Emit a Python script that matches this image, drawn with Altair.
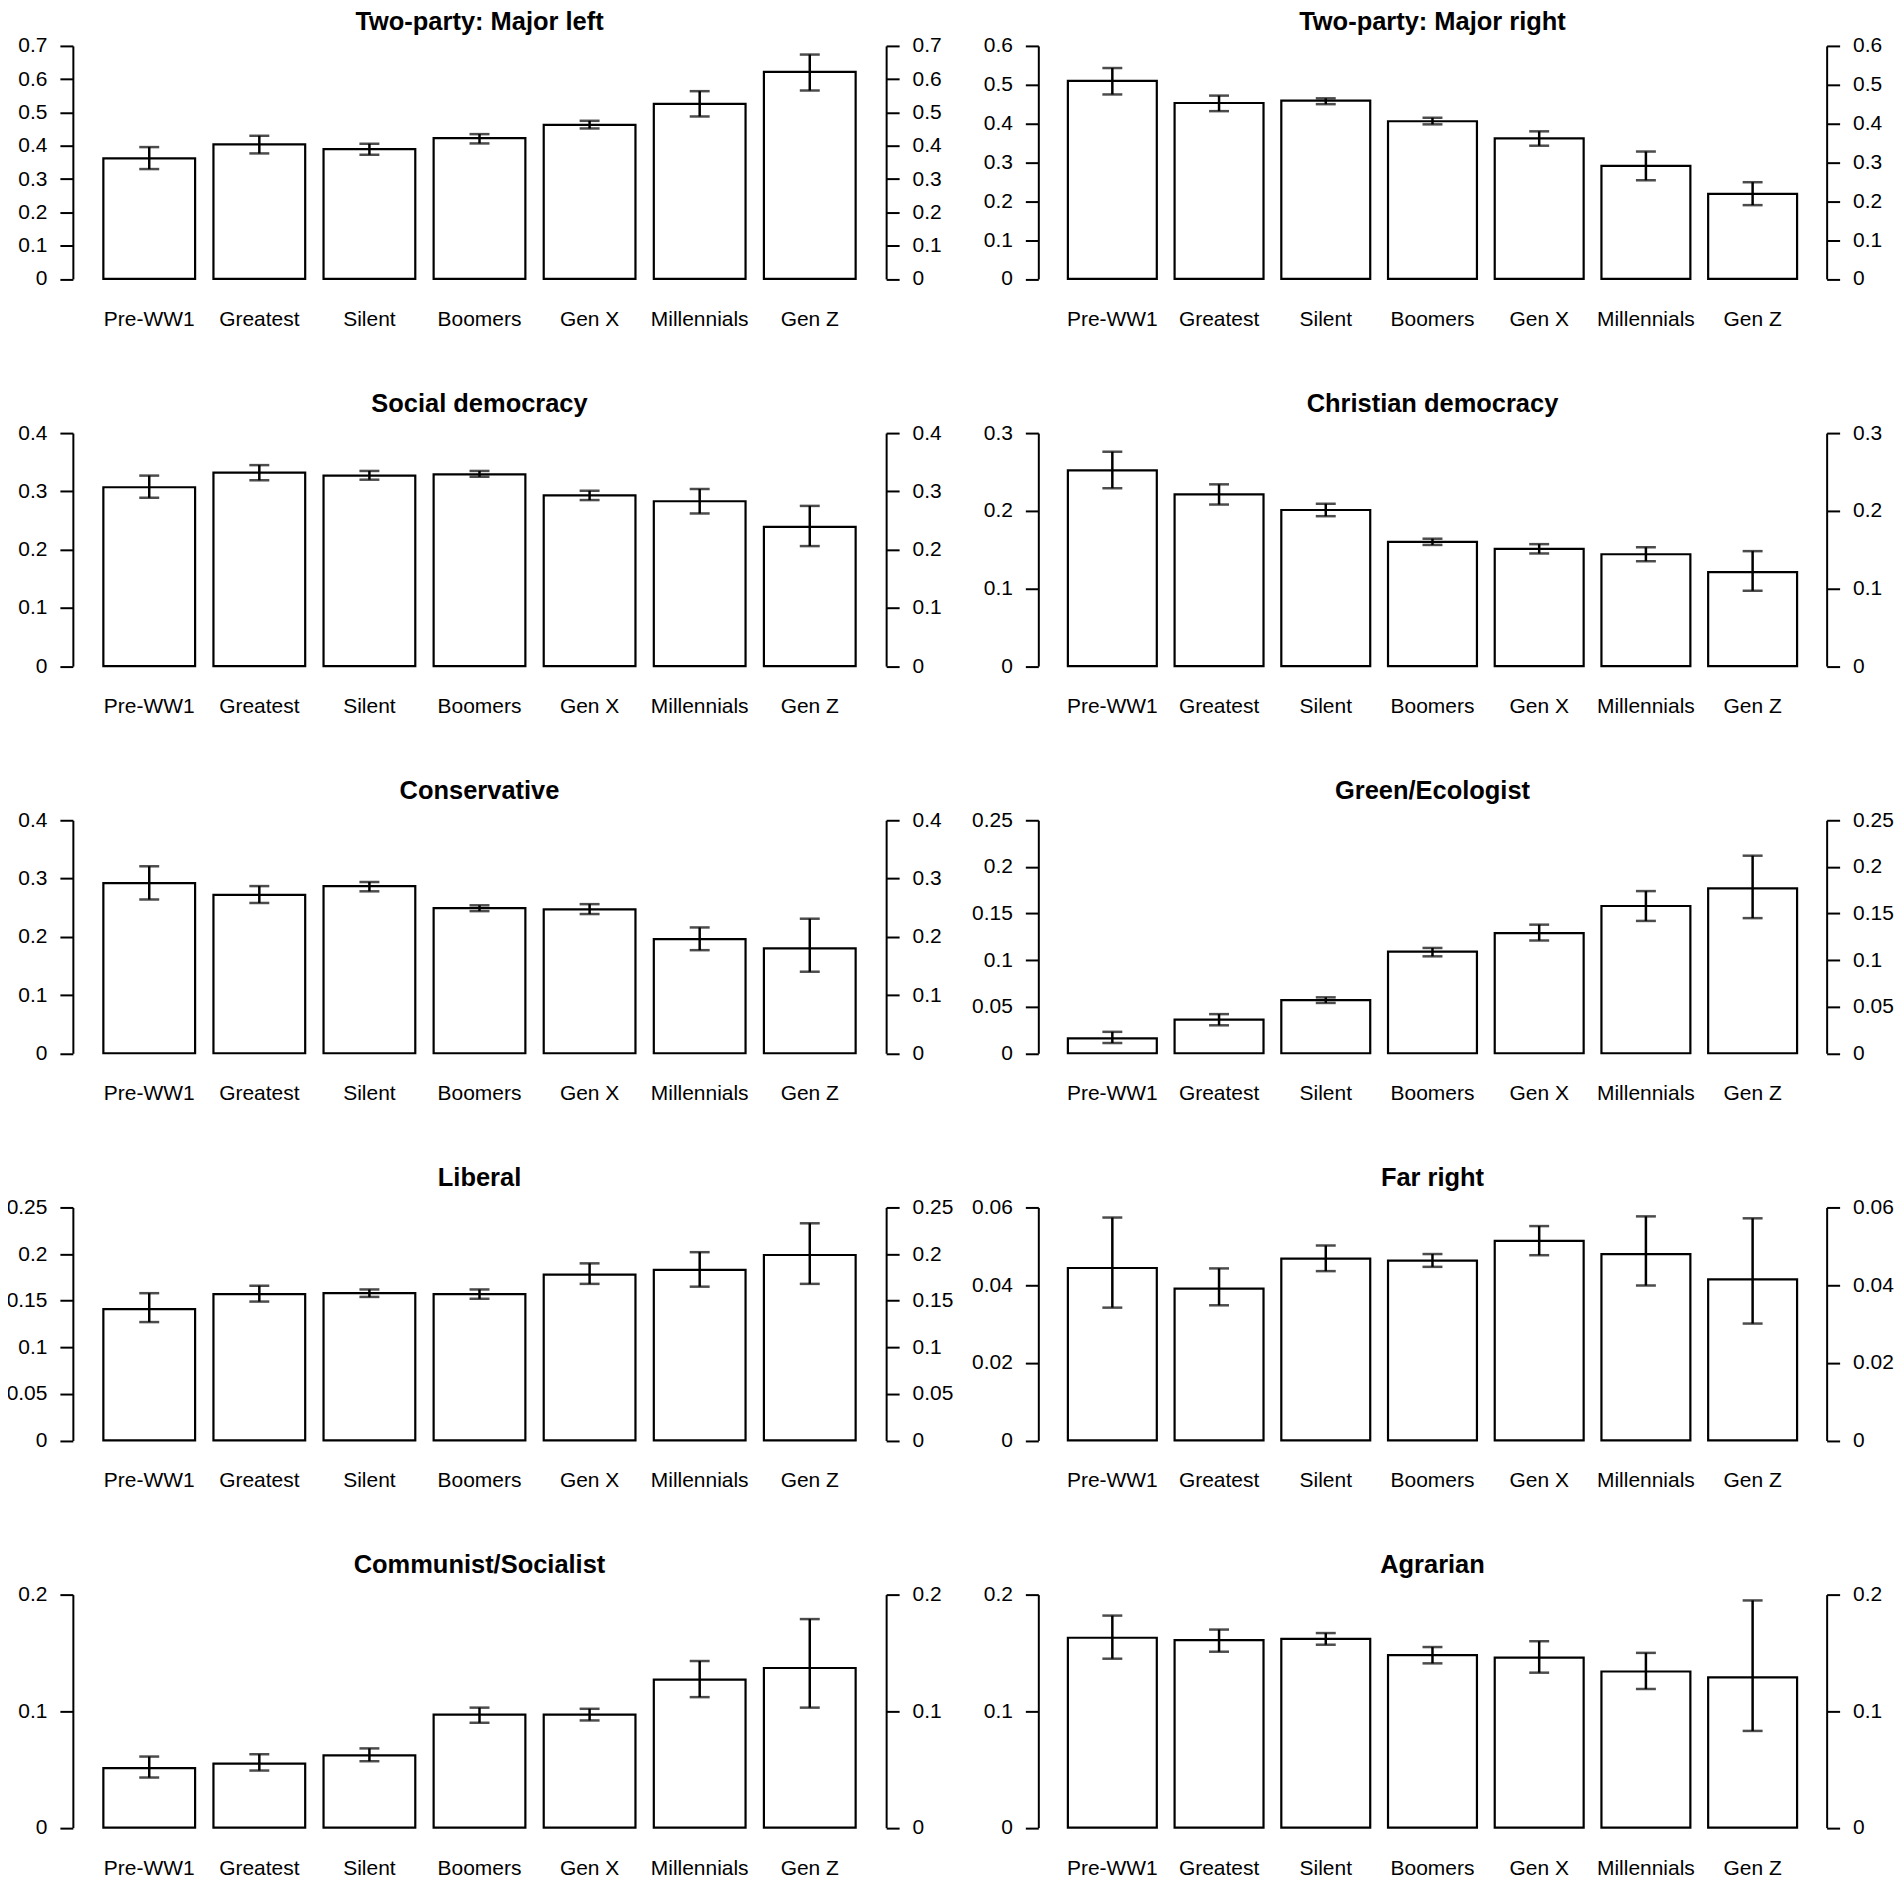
import altair as alt
import pandas as pd

generations = ["Pre-WW1", "Greatest", "Silent", "Boomers", "Gen X", "Millennials", "Gen Z"]

# Two-party: Major left
major_left = [0.362, 0.404, 0.390, 0.423, 0.463, 0.526, 0.622]
major_left_lo = [0.330, 0.377, 0.373, 0.407, 0.452, 0.488, 0.566]
major_left_hi = [0.396, 0.430, 0.406, 0.435, 0.475, 0.564, 0.674]

# Two-party: Major right
major_right = [0.510, 0.453, 0.459, 0.406, 0.362, 0.291, 0.219]
major_right_lo = [0.475, 0.432, 0.450, 0.398, 0.343, 0.254, 0.190]
major_right_hi = [0.543, 0.472, 0.465, 0.415, 0.380, 0.328, 0.249]

# Social democracy
social_dem = [0.307, 0.332, 0.327, 0.329, 0.293, 0.283, 0.239]
social_dem_lo = [0.289, 0.319, 0.320, 0.325, 0.285, 0.262, 0.206]
social_dem_hi = [0.327, 0.345, 0.335, 0.335, 0.301, 0.304, 0.275]

# Christian democracy
christian_dem = [0.252, 0.221, 0.201, 0.160, 0.151, 0.144, 0.121]
christian_dem_lo = [0.229, 0.208, 0.193, 0.156, 0.145, 0.135, 0.097]
christian_dem_hi = [0.276, 0.234, 0.209, 0.164, 0.157, 0.153, 0.148]

# Conservative
conservative = [0.292, 0.272, 0.287, 0.249, 0.247, 0.196, 0.180]
conservative_lo = [0.264, 0.258, 0.278, 0.244, 0.239, 0.177, 0.140]
conservative_hi = [0.321, 0.287, 0.294, 0.254, 0.256, 0.216, 0.231]

# Green/Ecologist
green = [0.016, 0.036, 0.057, 0.109, 0.129, 0.158, 0.177]
green_lo = [0.011, 0.030, 0.054, 0.104, 0.121, 0.142, 0.145]
green_hi = [0.023, 0.042, 0.060, 0.113, 0.138, 0.174, 0.212]

# Liberal
liberal = [0.141, 0.157, 0.158, 0.157, 0.178, 0.183, 0.199]
liberal_lo = [0.127, 0.149, 0.154, 0.152, 0.168, 0.165, 0.168]
liberal_hi = [0.158, 0.166, 0.162, 0.162, 0.190, 0.202, 0.233]

# Far right
far_right = [0.0444, 0.0391, 0.0468, 0.0463, 0.0514, 0.0480, 0.0415]
far_right_lo = [0.0342, 0.0348, 0.0436, 0.0447, 0.0477, 0.0399, 0.0301]
far_right_hi = [0.0574, 0.0443, 0.0502, 0.0480, 0.0552, 0.0577, 0.0572]

# Communist/Socialist
communist = [0.051, 0.055, 0.062, 0.097, 0.097, 0.127, 0.137]
communist_lo = [0.043, 0.049, 0.057, 0.090, 0.092, 0.112, 0.103]
communist_hi = [0.061, 0.063, 0.068, 0.103, 0.102, 0.143, 0.179]

# Agrarian
agrarian = [0.163, 0.161, 0.162, 0.148, 0.146, 0.134, 0.129]
agrarian_lo = [0.145, 0.151, 0.157, 0.141, 0.133, 0.119, 0.083]
agrarian_hi = [0.182, 0.170, 0.167, 0.155, 0.160, 0.150, 0.195]

ticks_07 = [0, 0.1, 0.2, 0.3, 0.4, 0.5, 0.6, 0.7]
ticks_06 = [0, 0.1, 0.2, 0.3, 0.4, 0.5, 0.6]
ticks_04 = [0, 0.1, 0.2, 0.3, 0.4]
ticks_03 = [0, 0.1, 0.2, 0.3]
ticks_025 = [0, 0.05, 0.1, 0.15, 0.2, 0.25]
ticks_006 = [0, 0.02, 0.04, 0.06]
ticks_02 = [0, 0.1, 0.2]

panels = [
    ("Two-party: Major left", major_left, major_left_lo, major_left_hi, 0.7, ticks_07),
    ("Two-party: Major right", major_right, major_right_lo, major_right_hi, 0.6, ticks_06),
    ("Social democracy", social_dem, social_dem_lo, social_dem_hi, 0.4, ticks_04),
    ("Christian democracy", christian_dem, christian_dem_lo, christian_dem_hi, 0.3, ticks_03),
    ("Conservative", conservative, conservative_lo, conservative_hi, 0.4, ticks_04),
    ("Green/Ecologist", green, green_lo, green_hi, 0.25, ticks_025),
    ("Liberal", liberal, liberal_lo, liberal_hi, 0.25, ticks_025),
    ("Far right", far_right, far_right_lo, far_right_hi, 0.06, ticks_006),
    ("Communist/Socialist", communist, communist_lo, communist_hi, 0.2, ticks_02),
    ("Agrarian", agrarian, agrarian_lo, agrarian_hi, 0.2, ticks_02),
]

FONT = "Liberation Sans, Arial, Helvetica, sans-serif"
LABEL_SIZE = 21
TITLE_SIZE = 25.5
PLOT_H = 233.5
WIDTHS = [815, 790]


def y_axis(orient, ticks):
    return alt.Axis(
        orient=orient, values=ticks, format="~g", title=None, grid=False,
        domainColor="black", domainWidth=2, tickColor="black", tickWidth=2,
        tickSize=13, labelPadding=13, labelFont=FONT, labelFontSize=LABEL_SIZE,
        labelColor="black", labelOverlap=False, labelFlush=False,
    )


def make_panel(i, title, vals, lo, hi, ymax, ticks):
    w = WIDTHS[i % 2]
    title_y = -24 if i < 2 else -29.5
    df = pd.DataFrame({"gen": generations, "val": vals, "lo": lo, "hi": hi})
    yscale = alt.Scale(domain=[0, ymax], nice=False, zero=True)
    x = alt.X(
        "gen:N", sort=generations,
        scale=alt.Scale(paddingInner=1 / 6, paddingOuter=0.277),
        axis=alt.Axis(
            title=None, domain=False, ticks=False, tickSize=0, labelAngle=0,
            labelPadding=40.5, labelBaseline="middle", labelFont=FONT,
            labelFontSize=LABEL_SIZE, labelColor="black", labelOverlap=False,
            grid=False,
        ),
    )
    base = alt.Chart(df)
    bars = base.mark_bar(fill="white", stroke="black", strokeWidth=2.2).encode(
        x=x, y=alt.Y("val:Q", scale=yscale, axis=y_axis("left", ticks))
    )
    rule = base.mark_rule(color="black", strokeWidth=2.5).encode(
        x=x, y=alt.Y("lo:Q", scale=yscale, axis=y_axis("right", ticks)), y2="hi:Q"
    )
    cap_lo = base.mark_tick(color="black", size=20, thickness=2.5, orient="horizontal").encode(
        x=x, y=alt.Y("lo:Q", scale=yscale, axis=None)
    )
    cap_hi = base.mark_tick(color="black", size=20, thickness=2.5, orient="horizontal").encode(
        x=x, y=alt.Y("hi:Q", scale=yscale, axis=None)
    )
    ttl = alt.Chart(pd.DataFrame({"t": [title]})).mark_text(
        font=FONT, fontSize=TITLE_SIZE, fontWeight="bold", color="black",
        align="center", baseline="middle",
    ).encode(text="t:N", x=alt.value(w / 2), y=alt.value(title_y))
    return (
        alt.layer(bars, rule, cap_lo, cap_hi, ttl)
        .resolve_scale(y="shared")
        .resolve_axis(y="independent")
        .properties(width=w, height=PLOT_H)
    )


charts = [make_panel(i, *p) for i, p in enumerate(panels)]

chart = (
    alt.concat(*charts, columns=2, spacing={"row": 154, "column": 152.5}, bounds="flush")
    .properties(padding={"top": 0, "left": -2, "right": 0, "bottom": 0}, background="white")
    .configure_view(stroke=None, strokeWidth=0)
    .configure_axis(grid=False)
)

chart.save("out.html", embed_options={"renderer": "svg", "actions": False})
